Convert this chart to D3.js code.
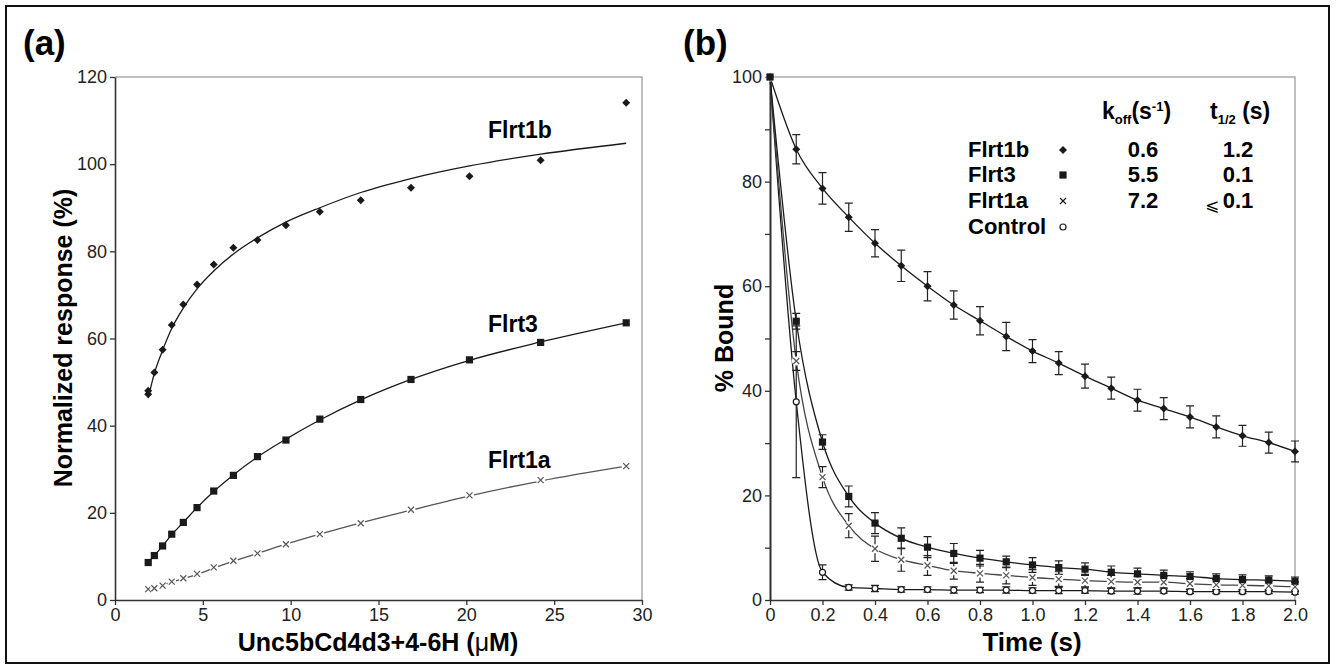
<!DOCTYPE html>
<html>
<head>
<meta charset="utf-8">
<script src="https://cdn.jsdelivr.net/npm/d3@7"></script>
<style>
  body { margin: 0; background: #fff; }
  text { font-family: Arial, 'Liberation Sans', sans-serif; }
</style>
</head>
<body>
<svg id="chart" width="1336" height="670"></svg>
<script>
// ---- panel (a) data: binding response vs concentration
const concA = [1.89, 2.24, 2.71, 3.23, 3.89, 4.67, 5.62, 6.74, 8.11, 9.73, 11.66, 13.99, 16.85, 20.18, 24.23, 29.1];
const flrt1bResp = [47.2, 52.2, 57.4, 63.1, 67.8, 72.4, 77.0, 80.8, 82.6, 86.0, 89.1, 91.7, 94.6, 97.2, 100.9, 114.1];
const flrt1bRepeat = [[1.89, 48.0]];
const flrt3Resp = [8.6, 10.2, 12.4, 15.1, 17.8, 21.2, 25.0, 28.6, 32.9, 36.7, 41.5, 46.0, 50.6, 55.1, 59.1, 63.6];
const flrt1aResp = [2.5, 2.7, 3.3, 4.2, 5.0, 6.0, 7.5, 9.0, 10.7, 12.8, 15.1, 17.6, 20.7, 24.0, 27.5, 30.7];
// fitted curves at the same concentrations
const flrt1bFit = [46.3, 52.0, 57.3, 62.3, 67.0, 71.4, 75.5, 79.4, 83.1, 86.7, 90.0, 93.5, 96.7, 99.6, 102.3, 104.8];
const flrt3Fit = [8.6, 10.2, 12.4, 15.0, 17.8, 21.2, 24.9, 28.7, 32.8, 36.9, 41.3, 45.9, 50.6, 55.0, 59.2, 63.6];
const flrt1aFit = [2.5, 2.9, 3.4, 4.1, 4.9, 5.9, 7.3, 8.9, 10.7, 12.8, 15.1, 17.7, 20.6, 23.9, 27.3, 30.7];
const ticksAx = [0, 5, 10, 15, 20, 25, 30];
const ticksAy = [0, 20, 40, 60, 80, 100, 120];

// ---- panel (b) data: dissociation time course
const timeB = [0, 0.1, 0.2, 0.3, 0.4, 0.5, 0.6, 0.7, 0.8, 0.9, 1.0, 1.1, 1.2, 1.3, 1.4, 1.5, 1.6, 1.7, 1.8, 1.9, 2.0];
const flrt1bBound = [100, 86.2, 78.7, 73.2, 68.2, 63.9, 60.0, 56.4, 53.4, 50.4, 47.6, 45.3, 42.8, 40.5, 38.2, 36.6, 35.0, 33.1, 31.4, 30.1, 28.4];
const flrt1bErr = [0, 2.8, 3.0, 2.7, 2.6, 3.0, 2.8, 2.7, 2.7, 2.7, 2.2, 2.2, 2.3, 2.1, 2.1, 2.1, 2.1, 2.1, 2.0, 2.0, 2.0];
const flrt3Bound = [100, 53.3, 30.2, 19.8, 14.7, 11.8, 10.1, 8.9, 8.0, 7.3, 6.7, 6.2, 5.9, 5.3, 5.0, 4.7, 4.5, 4.1, 3.9, 3.8, 3.6];
const flrt3Err = [0, 1.5, 1.4, 2.0, 2.0, 2.0, 2.0, 1.9, 1.5, 1.1, 1.4, 1.3, 1.2, 1.2, 1.1, 1.0, 0.9, 0.9, 0.9, 0.8, 0.8];
const flrt1aBound = [100, 45.7, 23.5, 14.2, 9.8, 7.7, 6.6, 5.6, 5.1, 4.7, 4.3, 4.0, 3.7, 3.5, 3.4, 3.4, 3.1, 2.9, 2.8, 2.7, 2.5];
const flrt1aErr = [0, 1.8, 2.0, 2.3, 2.4, 2.2, 1.9, 1.6, 1.7, 1.6, 1.5, 1.4, 1.2, 1.2, 1.1, 1.1, 1.0, 1.0, 0.9, 0.9, 0.9];
const controlBound = [100, 37.9, 5.3, 2.4, 2.2, 2.0, 2.0, 1.9, 1.9, 1.9, 1.8, 1.8, 1.8, 1.7, 1.7, 1.7, 1.6, 1.6, 1.6, 1.6, 1.5];
const controlErr = [0, 14.5, 1.4, 0.5, 0.6, 0.5, 0.5, 0.6, 0.5, 0.6, 0.5, 0.6, 0.5, 0.5, 0.6, 0.4, 0.4, 0.4, 0.4, 0.4, 0.4];
const ticksBx = [0, 0.2, 0.4, 0.6, 0.8, 1.0, 1.2, 1.4, 1.6, 1.8, 2.0];
const ticksBy = [0, 20, 40, 60, 80, 100];
const minorBy = [10, 30, 50, 70, 90];

// legend table
const legendNames = ['Flrt1b', 'Flrt3', 'Flrt1a', 'Control'];
const legendKoff = ['0.6', '5.5', '7.2', ''];
const legendHalf = ['1.2', '0.1', '0.1', ''];

const svg = d3.select('#chart');
const ink = '#1a1a1a';

// outer frame
svg.append('rect')
    .attr('x', 6).attr('y', 6)
    .attr('width', 1323).attr('height', 657)
    .attr('fill', 'none').attr('stroke', '#111').attr('stroke-width', 2);

// markers
const diamond = (g, x, y, r) => g.append('path')
    .attr('d', `M${x},${y - r}L${x + r},${y}L${x},${y + r}L${x - r},${y}Z`)
    .attr('fill', ink);
const square = (g, x, y, r) => g.append('rect')
    .attr('x', x - r).attr('y', y - r).attr('width', 2 * r).attr('height', 2 * r)
    .attr('fill', ink);
const cross = (g, x, y, r, col) => {
    g.append('circle').attr('cx', x).attr('cy', y).attr('r', r + 1.5).attr('fill', '#fff');
    g.append('path')
        .attr('d', `M${x - r},${y - r}L${x + r},${y + r}M${x - r},${y + r}L${x + r},${y - r}`)
        .attr('stroke', col).attr('stroke-width', 1.2).attr('fill', 'none');
};
const ring = (g, x, y, r) => g.append('circle')
    .attr('cx', x).attr('cy', y).attr('r', r)
    .attr('fill', '#fff').attr('stroke', ink).attr('stroke-width', 1.2);

const styleAxis = (g) => {
    g.select('.domain').attr('stroke', '#333').attr('stroke-width', 1.6);
    g.selectAll('.tick line').attr('stroke', '#333').attr('stroke-width', 1.3);
    g.selectAll('.tick text').attr('fill', '#222').style('font-size', '18px')
        .style('font-family', "Arial, 'Liberation Sans', sans-serif");
};

// ================= panel (a)
const xA = d3.scaleLinear().domain([0, 30]).range([115, 642]);
const yA = d3.scaleLinear().domain([0, 120]).range([600, 77]);

svg.append('text').attr('x', 23).attr('y', 55)
    .style('font-size', '35px').style('font-weight', 'bold').text('(a)');

// plot frame (top/right)
svg.append('path')
    .attr('d', `M${xA(0)},${yA(120)}H${xA(30)}V${yA(0)}`)
    .attr('fill', 'none').attr('stroke', '#aaa').attr('stroke-width', 1.5);

svg.append('g').attr('transform', `translate(0,${yA(0)})`)
    .call(d3.axisBottom(xA).tickValues(ticksAx).tickSize(5).tickSizeOuter(0).tickPadding(3))
    .call(styleAxis);
svg.append('g').attr('transform', `translate(${xA(0)},0)`)
    .call(d3.axisLeft(yA).tickValues(ticksAy).tickSize(5).tickSizeOuter(0).tickPadding(3))
    .call(styleAxis);

const lineA = d3.line()
    .x(d => xA(d[0])).y(d => yA(d[1]))
    .curve(d3.curveMonotoneX);

const fitsA = [
    { fit: flrt1bFit, color: ink },
    { fit: flrt3Fit, color: ink },
    { fit: flrt1aFit, color: '#555' }
];
const gA = svg.append('g');
fitsA.forEach(s => {
    gA.append('path')
        .attr('d', lineA(concA.map((c, i) => [c, s.fit[i]])))
        .attr('fill', 'none').attr('stroke', s.color).attr('stroke-width', 1.3);
});
concA.forEach((c, i) => {
    cross(gA, xA(c), yA(flrt1aResp[i]), 3, '#555');
    square(gA, xA(c), yA(flrt3Resp[i]), 3.6);
    diamond(gA, xA(c), yA(flrt1bResp[i]), 4);
});
flrt1bRepeat.forEach(d => diamond(gA, xA(d[0]), yA(d[1]), 4));

const labelsA = [
    { text: 'Flrt1b', y: 138 },
    { text: 'Flrt3', y: 332 },
    { text: 'Flrt1a', y: 468 }
];
svg.selectAll('.label-a')
    .data(labelsA).enter()
    .append('text')
    .attr('class', 'label-a')
    .attr('x', 488).attr('y', d => d.y)
    .style('font-size', '23px').style('font-weight', 'bold')
    .text(d => d.text);

svg.append('text')
    .attr('transform', 'translate(72,338) rotate(-90)')
    .attr('text-anchor', 'middle')
    .style('font-size', '25px').style('font-weight', 'bold')
    .text('Normalized response (%)');

const xLabA = svg.append('text')
    .attr('x', 378).attr('y', 651)
    .attr('text-anchor', 'middle')
    .style('font-size', '25px').style('font-weight', 'bold');
xLabA.append('tspan').text('Unc5bCd4d3+4-6H (');
xLabA.append('tspan').style('font-weight', 'normal').text('μ');
xLabA.append('tspan').text('M)');

// ================= panel (b)
const xB = d3.scaleLinear().domain([0, 2]).range([770, 1295]);
const yB = d3.scaleLinear().domain([0, 100]).range([600, 77]);

svg.append('text').attr('x', 683).attr('y', 55)
    .style('font-size', '35px').style('font-weight', 'bold').text('(b)');

svg.append('path')
    .attr('d', `M${xB(0)},${yB(100)}H${xB(2)}V${yB(0)}`)
    .attr('fill', 'none').attr('stroke', '#aaa').attr('stroke-width', 1.5);

svg.append('g').attr('transform', `translate(0,${yB(0)})`)
    .call(d3.axisBottom(xB).tickValues(ticksBx).tickSize(5).tickSizeOuter(0).tickPadding(3)
        .tickFormat(d => d === 0 ? '0' : d3.format('.1f')(d)))
    .call(styleAxis);
svg.append('g').attr('transform', `translate(${xB(0)},0)`)
    .call(d3.axisLeft(yB).tickValues(minorBy).tickSize(5).tickSizeOuter(0).tickFormat(''))
    .call(styleAxis);
svg.append('g').attr('transform', `translate(${xB(0)},0)`)
    .call(d3.axisLeft(yB).tickValues(ticksBy).tickSize(5).tickSizeOuter(0).tickPadding(3))
    .call(styleAxis);

const seriesB = [
    { vals: controlBound, err: controlErr, color: ink, mark: 'ring' },
    { vals: flrt1aBound, err: flrt1aErr, color: '#444', mark: 'cross' },
    { vals: flrt3Bound, err: flrt3Err, color: ink, mark: 'square' },
    { vals: flrt1bBound, err: flrt1bErr, color: ink, mark: 'diamond' }
];

const lineB = d3.line()
    .x(d => xB(d[0])).y(d => yB(d[1]))
    .curve(d3.curveMonotoneX);

const gB = svg.append('g');
seriesB.forEach(s => {
    gB.append('path')
        .attr('d', lineB(timeB.map((t, i) => [t, s.vals[i]])))
        .attr('fill', 'none').attr('stroke', s.color).attr('stroke-width', 1.3);
});
// error bars
seriesB.forEach(s => {
    timeB.forEach((t, i) => {
        if (!s.err[i]) return;
        const x = xB(t), y0 = yB(s.vals[i] - s.err[i]), y1 = yB(s.vals[i] + s.err[i]);
        gB.append('path')
            .attr('d', `M${x},${y0}V${y1}M${x - 4},${y0}H${x + 4}M${x - 4},${y1}H${x + 4}`)
            .attr('fill', 'none').attr('stroke', '#222').attr('stroke-width', 1.2);
    });
});
seriesB.forEach(s => {
    timeB.forEach((t, i) => {
        const x = xB(t), y = yB(s.vals[i]);
        if (s.mark === 'ring') ring(gB, x, y, 3);
        else if (s.mark === 'cross') cross(gB, x, y, 3, '#555');
        else if (s.mark === 'square') square(gB, x, y, 3.6);
        else diamond(gB, x, y, 4);
    });
});

// legend table
const leg = svg.append('g').style('font-weight', 'bold');
const hk = leg.append('text').attr('x', 1102).attr('y', 119).style('font-size', '23px');
hk.append('tspan').text('k');
hk.append('tspan').attr('dy', 5).style('font-size', '13px').text('off');
hk.append('tspan').attr('dy', -5).text('(s');
hk.append('tspan').attr('dy', -8).style('font-size', '13px').text('-1');
hk.append('tspan').attr('dy', 8).text(')');
const ht = leg.append('text').attr('x', 1210).attr('y', 119).style('font-size', '23px');
ht.append('tspan').text('t');
ht.append('tspan').attr('dy', 5).style('font-size', '13px').text('1/2');
ht.append('tspan').attr('dy', -5).text(' (s)');

const rowY = [157, 182, 208, 234];
legendNames.forEach((name, i) => {
    leg.append('text').attr('x', 968).attr('y', rowY[i])
        .style('font-size', '22px').text(name);
    leg.append('text').attr('x', 1143).attr('y', rowY[i])
        .attr('text-anchor', 'middle').style('font-size', '22px').text(legendKoff[i]);
    leg.append('text').attr('x', 1238).attr('y', rowY[i])
        .attr('text-anchor', 'middle').style('font-size', '22px').text(legendHalf[i]);
});
leg.append('text').attr('x', 1205).attr('y', rowY[2] + 3)
    .style('font-size', '17px').style('font-weight', 'normal')
    .style('font-family', "'DejaVu Sans', sans-serif").text('⩽');
const symX = 1063;
diamond(leg, symX, rowY[0] - 7, 4);
square(leg, symX, rowY[1] - 7, 3.6);
cross(leg, symX, rowY[2] - 7, 3, ink);
ring(leg, symX, rowY[3] - 7, 3);

svg.append('text')
    .attr('transform', 'translate(733,338) rotate(-90)')
    .attr('text-anchor', 'middle')
    .style('font-size', '25px').style('font-weight', 'bold')
    .text('% Bound');

svg.append('text')
    .attr('x', 1032).attr('y', 651)
    .attr('text-anchor', 'middle')
    .style('font-size', '26px').style('font-weight', 'bold')
    .text('Time (s)');
</script>
</body>
</html>
